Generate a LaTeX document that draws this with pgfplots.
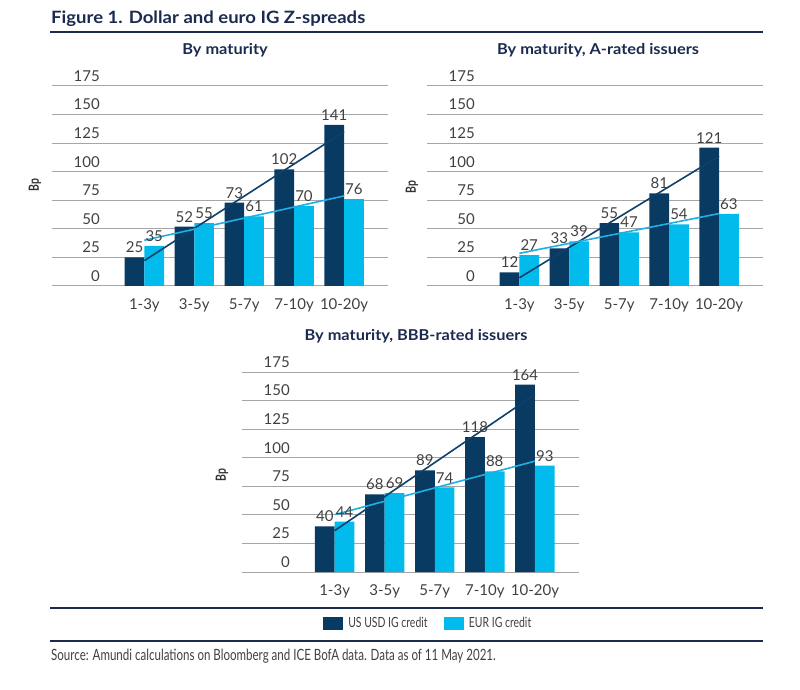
\documentclass[border=0pt]{standalone}
\usepackage{pgfplots}
\usepackage{pgfplotstable}
\pgfplotsset{compat=1.18}
\usepackage{fontspec}
\setmainfont{Lato}
\newfontfamily\condfont[FakeStretch=0.745]{Lato}
\newfontfamily\widefont[FakeStretch=1.09]{Lato}
\definecolor{navy}{RGB}{27,43,79}
\definecolor{darkbar}{RGB}{8,58,98}
\definecolor{lightbar}{RGB}{0,187,236}
\definecolor{darkline}{RGB}{14,64,108}
\definecolor{lightline}{RGB}{30,176,226}
\definecolor{gridc}{RGB}{166,166,166}
\definecolor{tickc}{RGB}{64,64,64}

\pgfplotstableread{
x usd eur
1 25 35
2 52 55
3 73 61
4 102 70
5 141 76
}\tabA
\pgfplotstableread{
x usd eur
1 12 27
2 33 39
3 55 47
4 81 54
5 121 63
}\tabB
\pgfplotstableread{
x usd eur
1 40 44
2 68 69
3 89 74
4 118 88
5 164 93
}\tabC

\pgfplotsset{
  panel/.style={
    scale only axis, width=336pt, height=200pt, anchor=south west,
    xmin=-0.85, xmax=5.88, ymin=0, ymax=175,
    ytick={0,25,...,175}, xtick={1,2,3,4,5},
    xticklabels={1-3y,3-5y,5-7y,7-10y,10-20y},
    ymajorgrids, grid style={draw=gridc, line width=1pt},
    axis line style={draw=none}, major tick length=0pt,
    tick label style={font=\fontsize{15}{18}\selectfont, text=tickc},
    yticklabel style={anchor=east, inner sep=0pt, xshift=48pt, yshift=10pt},
    xticklabel style={anchor=center, inner sep=0pt, yshift=-19pt},
    /pgf/number format/assume math mode=true,
    clip=false,
    every node near coord/.append style={font=\fontsize{15}{18}\selectfont, text=tickc, anchor=south, inner sep=1pt, yshift=3.2pt},
  },
  darkbars/.style={ybar, bar width=19.7pt, bar shift=-9.85pt, fill=darkbar, draw=none, nodes near coords, point meta=y, forget plot,
     every node near coord/.append style={xshift=-9.85pt}},
  lightbars/.style={ybar, bar width=19.7pt, bar shift=9.85pt, fill=lightbar, draw=none, nodes near coords, point meta=y, forget plot,
     every node near coord/.append style={xshift=9.85pt}},
  darktrend/.style={no markers, draw=darkline, line width=1.6pt, forget plot},
  lighttrend/.style={no markers, draw=lightline, line width=1.6pt, forget plot},
}

\begin{document}
\begin{tikzpicture}[x=1pt,y=1pt]
\useasboundingbox (0pt,0pt) rectangle (800pt,689pt);

% header
\node[anchor=base west, inner sep=0pt, text=navy, font=\widefont\bfseries\fontsize{17}{20}\selectfont] at (51pt,665pt) {Figure 1. Dollar and euro IG Z-spreads};
\draw[navy, line width=2pt] (50pt,657pt) -- (763pt,657pt);

% panel titles
\node[text=navy, font=\widefont\bfseries\fontsize{15}{18}\selectfont] at (225pt,639pt) {By maturity};
\node[text=navy, font=\widefont\bfseries\fontsize{15}{18}\selectfont] at (598pt,639pt) {By maturity, A-rated issuers};
\node[text=navy, font=\widefont\bfseries\fontsize{15}{18}\selectfont] at (416pt,353pt) {By maturity, BBB-rated issuers};

% y labels
\node[rotate=90, text=tickc!80!black, font=\condfont\bfseries\fontsize{14}{16}\selectfont] at (35pt,504pt) {Bp};
\node[rotate=90, text=tickc!80!black, font=\condfont\bfseries\fontsize{14}{16}\selectfont] at (412pt,502pt) {Bp};
\node[rotate=90, text=tickc!80!black, font=\condfont\bfseries\fontsize{14}{16}\selectfont] at (222pt,214pt) {Bp};

% panel 1
\begin{axis}[panel, at={(52pt,403pt)}]
\addplot[darkbars] table[x=x,y=usd]{\tabA};
\addplot[lightbars] table[x=x,y=eur]{\tabA};
\addplot[darktrend] table[x=x, y={create col/linear regression={y=usd}}]{\tabA};
\addplot[lighttrend] table[x=x, y={create col/linear regression={y=eur}}]{\tabA};
\end{axis}

% panel 2
\begin{axis}[panel, at={(427pt,403pt)}]
\addplot[darkbars] table[x=x,y=usd]{\tabB};
\addplot[lightbars] table[x=x,y=eur]{\tabB};
\addplot[darktrend] table[x=x, y={create col/linear regression={y=usd}}]{\tabB};
\addplot[lighttrend] table[x=x, y={create col/linear regression={y=eur}}]{\tabB};
\end{axis}

% panel 3
\begin{axis}[panel, at={(242pt,117pt)}, width=337pt,
  legend columns=2,
  legend style={at={(0.552,-0.255)}, anchor=center, draw=none, fill=none,
    font=\condfont\fontsize{14}{16}\selectfont, text=tickc,
    /tikz/every odd column/.append style={column sep=4pt},
    /tikz/every even column/.append style={column sep=14pt}},
]
\addlegendimage{legend image code/.code={\fill[darkbar] (0pt,-6pt) rectangle (19pt,6pt);}}
\addlegendentry{US USD IG credit}
\addlegendimage{legend image code/.code={\fill[lightbar] (0pt,-6pt) rectangle (19pt,6pt);}}
\addlegendentry{EUR IG credit}
\addplot[darkbars] table[x=x,y=usd]{\tabC};
\addplot[lightbars] table[x=x,y=eur]{\tabC};
\addplot[darktrend] table[x=x, y={create col/linear regression={y=usd}}]{\tabC};
\addplot[lighttrend] table[x=x, y={create col/linear regression={y=eur}}]{\tabC};
\end{axis}

% footer rules and source
\draw[navy, line width=2pt] (50pt,81.3pt) -- (763pt,81.3pt);
\draw[navy, line width=2pt] (50pt,48.3pt) -- (763pt,48.3pt);
\node[anchor=base west, inner sep=0pt, text=tickc, font=\condfont\fontsize{15.5}{18}\selectfont] at (51pt,28.3pt) {Source: Amundi calculations on Bloomberg and ICE BofA data. Data as of 11 May 2021.};
\end{tikzpicture}
\end{document}
